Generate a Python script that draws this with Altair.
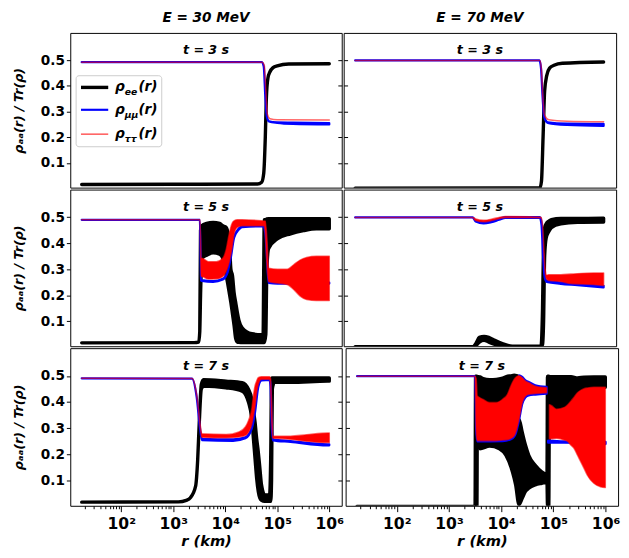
import altair as alt
import pandas as pd

# ---------------- data: (log10 r [km], lower, upper) ----------------
COLUMN_TITLES = ["E = 30 MeV", "E = 70 MeV"]
ROW_TITLES = ["t = 3 s", "t = 5 s", "t = 7 s"]
LEGEND_SUBS = ["ee", "μμ", "ττ"]
X_MAJOR = [1e2, 1e3, 1e4, 1e5, 1e6]
X_MINOR = [m * 10 ** k for k in range(1, 6) for m in range(2, 10)]
Y_TICKS = [0.1, 0.2, 0.3, 0.4, 0.5]

E30_T3_EE = [(1.24, .016, .016), (3.0, .017, .017), (4.62, .018, .018), (4.70, .025, .025), (4.74, .06, .06),
             (4.77, .20, .20), (4.79, .35, .35), (4.82, .43, .43), (4.86, .455, .455), (4.92, .471, .471),
             (5.0, .478, .478), (5.22, .485, .485), (6.0, .486, .486)]
E30_T3_MM = [(1.24, .492, .492), (4.70, .492, .492), (4.74, .475, .475), (4.77, .36, .36), (4.80, .28, .28),
             (4.84, .262, .262), (5.0, .256, .258), (5.3, .252, .257), (6.0, .250, .255)]
E30_T3_TT = [(1.24, .492, .492), (4.71, .492, .492), (4.75, .48, .48), (4.78, .38, .38), (4.81, .29, .29),
             (4.86, .272, .272), (5.0, .268, .268), (6.0, .267, .267)]

E70_T3_EE = [(1.24, .002, .002), (4.78, .003, .003), (4.81, .03, .03), (4.84, .20, .20), (4.87, .38, .38),
             (4.91, .44, .44), (4.965, .469, .469), (5.05, .48, .48), (5.21, .488, .488), (6.0, .493, .493)]
E70_T3_MM = [(1.24, .499, .499), (4.77, .499, .499), (4.80, .47, .47), (4.83, .36, .36), (4.86, .28, .28),
             (4.93, .256, .258), (5.3, .248, .253), (6.0, .244, .252)]
E70_T3_TT = [(1.24, .499, .499), (4.78, .499, .499), (4.81, .46, .46), (4.84, .34, .34), (4.87, .285, .285),
             (4.95, .268, .268), (5.3, .262, .262), (6.0, .26, .26)]

E30_T5_EE = [(1.24, .017, .017), (3.40, .018, .018), (3.49, .02, .02), (3.51, .06, .06), (3.525, .2, .45),
             (3.55, .342, .467), (3.643, .354, .476), (3.767, .363, .480), (3.891, .358, .476), (3.953, .342, .467),
             (4.015, .28, .461), (4.077, .21, .411), (4.108, .172, .30), (4.139, .128, .275), (4.170, .084, .21),
             (4.201, .033, .172), (4.232, .02, .134), (4.263, .019, .103), (4.325, .018, .075), (4.511, .018, .052),
             (4.697, .018, .048), (4.728, .018, .05), (4.74, .018, .30), (4.75, .018, .49), (4.78, .05, .49),
             (4.80, .30, .493), (4.834, .379, .494), (5.007, .417, .494), (5.255, .436, .494), (5.504, .448, .494),
             (5.752, .455, .494), (6.0, .455, .494)]
E30_T5_MM = [(1.24, .49, .49), (3.512, .49, .49), (3.535, .257, .26), (3.55, .255, .258), (3.767, .251, .254),
             (3.953, .26, .263), (4.046, .289, .292), (4.108, .346, .35), (4.170, .421, .425), (4.263, .453, .457),
             (4.325, .462, .466), (4.728, .465, .468), (4.77, .44, .45), (4.80, .35, .36), (4.834, .247, .25),
             (5.007, .245, .248), (6.0, .245, .248)]
E30_T5_TT = [(1.24, .49, .49), (3.515, .49, .49), (3.535, .272, .342), (3.55, .272, .342), (3.674, .262, .329),
             (3.829, .263, .329), (3.953, .272, .342), (4.015, .291, .373), (4.077, .329, .436), (4.127, .379, .474),
             (4.170, .436, .486), (4.232, .461, .490), (4.325, .467, .490), (4.697, .467, .486), (4.747, .467, .485),
             (4.77, .44, .485), (4.80, .33, .42), (4.834, .253, .304), (5.007, .247, .300), (5.193, .241, .300),
             (5.317, .222, .317), (5.441, .197, .335), (5.566, .184, .345), (5.752, .180, .350), (6.0, .180, .350)]

E70_T5_EE = [(1.24, .002, .002), (3.50, .002, .002), (3.55, .006, .014), (3.62, .02, .038), (3.71, .027, .042),
             (3.80, .02, .038), (3.90, .012, .028), (4.06, .006, .014), (4.25, .003, .004), (4.80, .003, .004),
             (4.83, .01, .15), (4.85, .1, .40), (4.87, .35, .46), (4.90, .42, .475), (4.95, .445, .485),
             (5.0, .46, .49), (5.18, .474, .495), (5.5, .48, .495), (6.0, .481, .496)]
E70_T5_MM = [(1.24, .499, .499), (3.49, .499, .499), (3.55, .483, .486), (3.70, .476, .48), (3.85, .481, .485),
             (4.0, .49, .494), (4.12, .497, .5), (4.78, .497, .5), (4.81, .47, .48), (4.84, .35, .36),
             (4.87, .27, .28), (4.91, .251, .256), (5.18, .244, .249), (5.5, .239, .244), (6.0, .23, .236)]
E70_T5_TT = [(1.24, .499, .499), (3.49, .499, .499), (3.55, .487, .493), (3.70, .482, .488), (3.85, .487, .492),
             (4.0, .495, .499), (4.12, .499, .502), (4.6, .499, .501), (4.80, .498, .5), (4.83, .47, .47),
             (4.86, .35, .36), (4.88, .29, .30), (4.91, .262, .277), (4.95, .257, .279), (5.18, .253, .279),
             (5.37, .245, .281), (5.81, .241, .285), (6.0, .237, .285)]

E30_T7_EE = [(1.24, .018, .018), (3.10, .019, .019), (3.25, .025, .025), (3.33, .035, .035), (3.43, .079, .079),
             (3.47, .18, .18), (3.50, .32, .32), (3.54, .45, .468), (3.581, .461, .486), (4.015, .455, .48),
             (4.325, .442, .474), (4.449, .398, .448), (4.511, .335, .411), (4.542, .26, .367), (4.573, .184, .323),
             (4.604, .109, .26), (4.635, .059, .21), (4.666, .033, .147), (4.697, .025, .084), (4.759, .021, .046),
             (4.852, .021, .045), (4.875, .021, .20), (4.89, .10, .49), (4.905, .45, .492), (4.945, .476, .4925),
             (5.255, .476, .4925), (5.969, .48, .4925), (6.0, .48, .4925)]
E30_T7_MM = [(1.24, .491, .491), (3.36, .49, .49), (3.45, .42, .42), (3.515, .30, .30), (3.55, .255, .26),
             (4.15, .252, .258), (4.387, .262, .266), (4.511, .3, .305), (4.573, .362, .367), (4.635, .458, .462),
             (4.697, .483, .487), (4.852, .485, .488), (4.87, .46, .47), (4.89, .33, .34), (4.915, .254, .258),
             (5.255, .248, .251), (5.969, .235, .239), (6.0, .235, .239)]
E30_T7_TT = [(1.24, .491, .491), (3.364, .49, .49), (3.457, .418, .418), (3.52, .305, .31), (3.55, .266, .279),
             (4.015, .264, .276), (4.263, .267, .286), (4.387, .273, .305), (4.449, .286, .33), (4.511, .317, .374),
             (4.542, .349, .424), (4.573, .386, .462), (4.604, .437, .48), (4.635, .468, .493), (4.697, .487, .497),
             (4.852, .487, .497), (4.87, .47, .49), (4.89, .35, .40), (4.915, .262, .27), (4.945, .262, .27),
             (5.255, .258, .27), (5.566, .251, .2755), (5.969, .246, .282), (6.0, .246, .282)]

E70_T7_EE_A = [(1.24, .002, .002), (3.50, .002, .002), (3.51, .002, .499), (3.535, .002, .499), (3.545, .423, .498),
               (3.592, .423, .496), (3.654, .41, .49), (3.779, .398, .486), (3.904, .398, .487), (4.029, .411, .492),
               (4.122, .43, .499), (4.185, .461, .5), (4.247, .486, .503), (4.31, .498, .5)]
E70_T7_EE_B = [(3.542, .25, .26), (3.592, .222, .253), (3.779, .232, .253), (3.966, .222, .253), (4.091, .197, .257),
               (4.216, .134, .27), (4.278, .084, .285), (4.341, .008, .335), (4.403, .033, .285), (4.466, .059, .235),
               (4.528, .071, .197), (4.653, .084, .159), (4.778, .09, .134), (4.878, .094, .124), (4.888, .002, .499),
               (4.912, .002, .499), (4.925, .45, .497), (4.965, .386, .497), (5.059, .373, .497), (5.215, .38, .497),
               (5.34, .404, .497), (5.464, .436, .4925), (5.589, .451, .495), (5.777, .457, .496), (5.995, .457, .496)]
E70_T7_MM_A = [(1.24, .499, .499), (3.50, .499, .499), (3.52, .3, .3), (3.542, .25, .255), (4.029, .251, .255),
               (4.185, .258, .262), (4.247, .268, .272), (4.278, .28, .285), (4.341, .33, .502), (4.403, .393, .496),
               (4.466, .418, .483), (4.528, .426, .477), (4.653, .429, .464), (4.871, .432, .458)]
E70_T7_MM_B = [(4.90, .245, .253), (5.2, .245, .25), (6.0, .24, .248)]
E70_T7_TT_A = [(1.24, .499, .499), (3.50, .499, .499), (3.52, .30, .49), (3.542, .253, .423), (3.654, .253, .41),
               (3.779, .253, .398), (3.904, .253, .398), (4.029, .255, .411), (4.122, .257, .43), (4.185, .262, .461),
               (4.247, .272, .486), (4.278, .285, .494), (4.341, .335, .501), (4.403, .398, .493), (4.466, .423, .48),
               (4.528, .43, .474), (4.653, .433, .461), (4.871, .436, .455)]
E70_T7_TT_B = [(4.925, .26, .39), (4.965, .26, .386), (5.059, .262, .373), (5.215, .255, .38), (5.277, .25, .39),
               (5.34, .235, .404), (5.402, .222, .42), (5.464, .197, .436), (5.527, .172, .445), (5.589, .147, .451),
               (5.652, .121, .454), (5.777, .09, .457), (5.901, .077, .457), (5.995, .074, .457)]

BANDS = [
    ("E30_t3", "ee", "a", E30_T3_EE), ("E30_t3", "mm", "a", E30_T3_MM), ("E30_t3", "tt", "a", E30_T3_TT),
    ("E70_t3", "ee", "a", E70_T3_EE), ("E70_t3", "mm", "a", E70_T3_MM), ("E70_t3", "tt", "a", E70_T3_TT),
    ("E30_t5", "ee", "a", E30_T5_EE), ("E30_t5", "mm", "a", E30_T5_MM), ("E30_t5", "tt", "a", E30_T5_TT),
    ("E70_t5", "ee", "a", E70_T5_EE), ("E70_t5", "mm", "a", E70_T5_MM), ("E70_t5", "tt", "a", E70_T5_TT),
    ("E30_t7", "ee", "a", E30_T7_EE), ("E30_t7", "mm", "a", E30_T7_MM), ("E30_t7", "tt", "a", E30_T7_TT),
    ("E70_t7", "ee", "a", E70_T7_EE_A), ("E70_t7", "ee", "b", E70_T7_EE_B),
    ("E70_t7", "mm", "a", E70_T7_MM_A), ("E70_t7", "mm", "b", E70_T7_MM_B),
    ("E70_t7", "tt", "a", E70_T7_TT_A), ("E70_t7", "tt", "b", E70_T7_TT_B),
]

rows = []
for panel, series, band, pts in BANDS:
    for lr, lo, hi in pts:
        rows.append({"panel": panel, "series": series, "band": band,
                     "r": 10 ** lr, "lo": lo, "hi": hi})
DF = pd.DataFrame(rows)

# ---------------- styling ----------------
FONT = "DejaVu Sans"
STYLES = [("ee", "#000000", 3.5, 1.0), ("mm", "#0000ff", 2.3, 1.0), ("tt", "#ff0000", 1.6, 0.6)]
X_DOMAIN = [10 ** 1.02, 10 ** 6.24]
Y_DOMAIN = [0.004, 0.606]
WIDTHS = [279, 280]
HEIGHTS = [159, 161, 162]

sup = {100: "10²", 1000: "10³", 10000: "10⁴", 100000: "10⁵", 1000000: "10⁶"}
label_expr = " : ".join(f"datum.value == {k} ? '{v}'" for k, v in sup.items()) + " : ''"
major_test = " || ".join(f"datum.value == {k}" for k in sup)

x_axis = alt.Axis(values=sorted(X_MAJOR + X_MINOR), labelExpr=label_expr,
                  tickSize={"condition": {"test": major_test, "value": 6}, "value": 3},
                  title="r (km)", labelFontSize=16, labelFontWeight="bold", labelFont=FONT,
                  titleFontSize=15, titleFontWeight="bold", titleFontStyle="italic", titleFont=FONT,
                  labelPadding=4, titlePadding=3, domain=False, grid=False, labelFlush=False,
                  labelOverlap=False, tickColor="black", labelColor="black", titleColor="black")
y_axis = alt.Axis(values=Y_TICKS, format=".1f", title="ρₐₐ(r) / Tr(ρ)", labelFontSize=14,
                  labelFontWeight="bold", labelFont=FONT, titleFontSize=13, titleFontWeight="bold",
                  titleFontStyle="italic", titleFont=FONT, tickSize=4, labelPadding=2, titlePadding=15,
                  domain=False, grid=False, tickColor="black", labelColor="black", titleColor="black",
                  orient="left")


def inner_tick_axis(orient):
    return alt.Axis(values=Y_TICKS, orient=orient, offset=-4, tickSize=4, labels=False, title=None,
                    domain=False, grid=False, tickColor="black")


def legend_layers():
    one = pd.DataFrame({"a": [0]})
    out = [alt.Chart(one).mark_rect(fill="white", fillOpacity=0.85, stroke="#cccccc", strokeWidth=1,
                                     cornerRadius=3).encode(x=alt.value(6), x2=alt.value(94),
                                                            y=alt.value(44), y2=alt.value(117))]
    ys = [56, 79, 104]
    widths = [3.5, 2.2, 1.0]
    for (s, color, sw, so), sub, yy, lw in zip(STYLES, LEGEND_SUBS, ys, widths):
        out.append(alt.Chart(one).mark_rule(color=color, strokeWidth=lw)
                   .encode(x=alt.value(11), x2=alt.value(39), y=alt.value(yy)))
        lab = pd.DataFrame({"main": ["ρ"], "sub": [sub], "tail": ["(r)"]})
        out.append(alt.Chart(lab).mark_text(align="left", baseline="middle", fontSize=14, fontWeight="bold",
                                            fontStyle="italic", font=FONT)
                   .encode(x=alt.value(46), y=alt.value(yy), text="main:N"))
        out.append(alt.Chart(lab).mark_text(align="left", baseline="middle", fontSize=9.5, fontWeight="bold",
                                            fontStyle="italic", font=FONT)
                   .encode(x=alt.value(56), y=alt.value(yy + 5), text="sub:N"))
        out.append(alt.Chart(lab).mark_text(align="left", baseline="middle", fontSize=14, fontWeight="bold",
                                            fontStyle="italic", font=FONT)
                   .encode(x=alt.value(70), y=alt.value(yy), text="tail:N"))
    return out


def panel(key, r, c):
    d = DF[DF.panel == key]
    w, h = WIDTHS[c], HEIGHTS[r]
    yscale = alt.Scale(domain=Y_DOMAIN)
    xenc = alt.X("r:Q", scale=alt.Scale(type="log", domain=X_DOMAIN), axis=x_axis if r == 2 else None)
    layers = []
    for k, (s, color, sw, so) in enumerate(STYLES):
        yenc = alt.Y("lo:Q", scale=yscale, axis=y_axis if (c == 0 and k == 0) else None)
        layers.append(alt.Chart(d[d.series == s]).mark_area(
            fill=color, stroke=color, strokeWidth=sw, strokeOpacity=so, clip=True,
            interpolate="monotone", strokeJoin="round").encode(
            x=xenc, y=yenc, y2="hi:Q", detail="band:N"))
    # inward ticks along the shared border between the two columns
    tick_df = pd.DataFrame({"v": Y_TICKS})
    layers.append(alt.Chart(tick_df).mark_point(opacity=0).encode(
        y=alt.Y("v:Q", scale=yscale, axis=inner_tick_axis("right" if c == 0 else "left"))))
    lab = pd.DataFrame({"t": [ROW_TITLES[r]]})
    layers.append(alt.Chart(lab).mark_text(fontSize=13, fontWeight="bold", fontStyle="italic", font=FONT,
                                           baseline="middle").encode(
        x=alt.value(w / 2), y=alt.value(18), text="t:N"))
    if r == 0 and c == 0:
        layers += legend_layers()
    ch = alt.layer(*layers).resolve_axis(y="independent").properties(width=w, height=h)
    if r == 0:
        ch = ch.properties(title=alt.TitleParams(COLUMN_TITLES[c], fontSize=14, fontWeight="bold",
                                                 fontStyle="italic", font=FONT, offset=8, anchor="middle",
                                                 color="black"))
    return ch


KEYS = [["E30_t3", "E70_t3"], ["E30_t5", "E70_t5"], ["E30_t7", "E70_t7"]]
row_charts = [alt.hconcat(*[panel(KEYS[r][c], r, c) for c in range(2)], spacing=0) for r in range(3)]
chart = (alt.vconcat(*row_charts, spacing=0)
         .properties(padding={"left": 4, "top": -5, "right": 0, "bottom": 0})
         .configure(font=FONT)
         .configure_view(stroke="black", strokeWidth=1))

chart.save("out.html", embed_options={"renderer": "svg", "actions": False})
